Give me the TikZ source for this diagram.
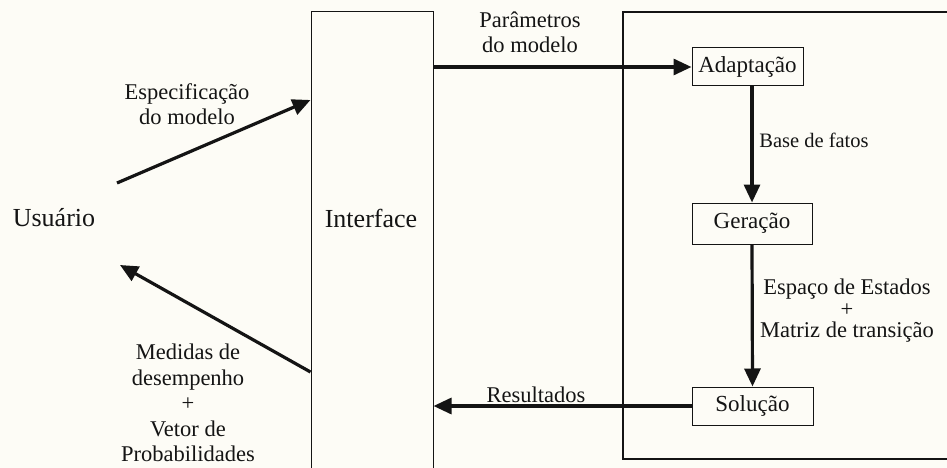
\documentclass[tikz,border=0pt]{standalone}
\usepackage{fontspec}
\setmainfont{Liberation Serif}
\usetikzlibrary{arrows.meta}
\definecolor{paper}{HTML}{FDFCF6}
\definecolor{ink}{HTML}{141414}
\begin{document}
\begin{tikzpicture}[x=1pt,y=-1pt,
  bigtxt/.style={inner sep=0pt,font=\fontsize{26}{28}\selectfont,text=ink},
  lbl/.style={inner sep=0pt,font=\fontsize{22.5}{25}\selectfont,align=center,text=ink},
  procbox/.style={draw=ink,line width=1pt,inner sep=0pt,font=\fontsize{23}{25}\selectfont,text=ink},
  arr/.style={draw=ink,line width=3.2pt,-{Triangle[length=18pt,width=16pt]}},
]
\useasboundingbox (0,0) rectangle (947,468);
\fill[paper] (0,0) rectangle (947,468);
\clip (0,0) rectangle (947,468);

% Interface column (runs off the bottom)
\node[draw=ink,line width=1pt,minimum width=122pt,minimum height=478pt,inner sep=0pt] (iface) at (372,251) {};
\node[bigtxt] (ifacetext) at (371,218) {Interface};

% system frame (runs off the right)
\node[draw=ink,line width=1.8pt,minimum width=340pt,minimum height=447pt,inner sep=0pt] (sys) at (793,235.5) {};

% user
\node[bigtxt] (user) at (54,218) {Usuário};

% process boxes
\node[procbox,minimum width=111pt,minimum height=38pt] (adapt) at (747.5,67) {Adaptação};
\node[procbox,minimum width=120pt,minimum height=41pt] (ger) at (752,223.5) {Geração};
\node[procbox,minimum width=121pt,minimum height=38pt] (sol) at (752.5,406) {Solução};

% labels
\node[lbl] (lspec) at (187,104) {Especificação\\do modelo};
\node[lbl] (lpar) at (530,32) {Parâmetros\\do modelo};
\node[lbl,font=\fontsize{20.5}{23}\selectfont] (lbase) at (814,140) {Base de fatos};
\node[lbl,font=\fontsize{22.5}{21.5}\selectfont] (lesp) at (847,311) {Espaço de Estados\\+\\Matriz de transição};
\node[lbl] (lres) at (536,395) {Resultados};
\node[lbl,font=\fontsize{22.5}{25.5}\selectfont] (lmed) at (188,403) {Medidas de\\desempenho\\+\\Vetor de\\Probabilidades};

% connectors
\coordinate (specstart) at (117,183);
\coordinate (specend) at (iface.west |- 0,100);
\draw[arr] (specstart) -- (specend);

\coordinate (medstart) at (iface.west |- 0,372);
\coordinate (medend) at (120,265);
\draw[arr] (medstart) -- (medend);

\draw[arr] (adapt.west -| iface.east) -- (adapt.west);
\draw[arr] (sol.west) -- (sol.west -| iface.east);
\draw[arr] (adapt.south -| ger.north) -- (ger.north);
\draw[arr] (ger.south) -- (sol.north);
\end{tikzpicture}
\end{document}
